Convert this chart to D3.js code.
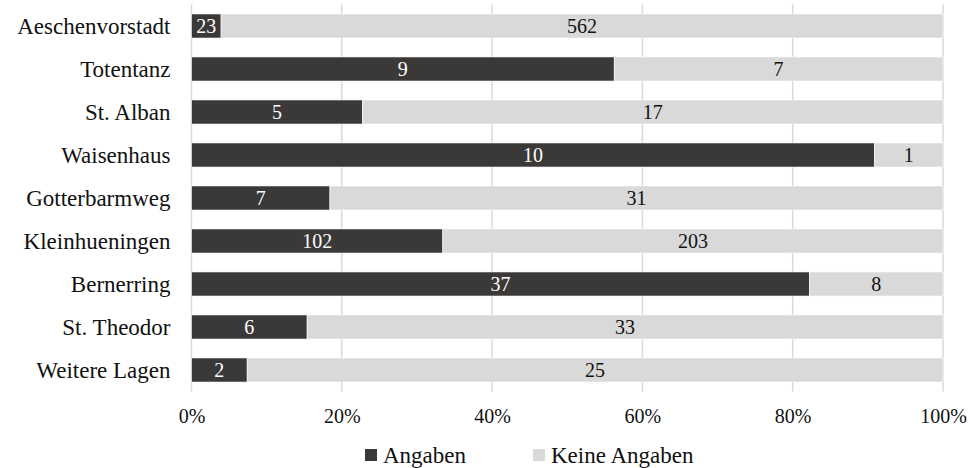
<!DOCTYPE html>
<html>
<head>
<meta charset="utf-8">
<script src="https://cdn.jsdelivr.net/npm/d3@7"></script>
</head>
<body style="margin:0">
<svg id="chart" width="970" height="468" font-family="Liberation Serif"></svg>
<script>
// Locations and counts (with / without information)
const categories = ["Aeschenvorstadt", "Totentanz", "St. Alban", "Waisenhaus", "Gotterbarmweg",
                    "Kleinhueningen", "Bernerring", "St. Theodor", "Weitere Lagen"];
const angaben      = [23, 9, 5, 10, 7, 102, 37, 6, 2];
const keineAngaben = [562, 7, 17, 1, 31, 203, 8, 33, 25];
const seriesNames  = ["Angaben", "Keine Angaben"];
const tickValues   = [0, 0.2, 0.4, 0.6, 0.8, 1.0];

const colors = ["#3b3838", "#d9d9d9"];
const textColors = ["#ffffff", "#111111"];
const serif = "'Liberation Serif'";

const svg = d3.select("#chart");
const margin = { left: 191.5, right: 27, top: 4.5, bottom: 76.5 };
const W = 970, H = 468;

const x = d3.scaleLinear().domain([0, 1]).range([margin.left, W - margin.right]);
const y = d3.scaleBand().domain(categories).range([margin.top, H - margin.bottom]).paddingInner(0.44).paddingOuter(0.22);

const rows = categories.map((c, i) => ({ cat: c, Angaben: angaben[i], "Keine Angaben": keineAngaben[i] }));
const stack = d3.stack().keys(seriesNames).offset(d3.stackOffsetExpand);
const layers = stack(rows);

// Gridlines
svg.append("g")
  .selectAll("line")
  .data(tickValues)
  .join("line")
  .attr("x1", d => x(d)).attr("x2", d => x(d))
  .attr("y1", margin.top).attr("y2", H - margin.bottom)
  .attr("stroke", "#d9d9d9").attr("stroke-width", 1.5);

// Bars
const layerG = svg.append("g")
  .selectAll("g")
  .data(layers)
  .join("g")
  .attr("fill", (d, i) => colors[i]);

layerG.selectAll("rect")
  .data(d => d)
  .join("rect")
  .attr("x", d => x(d[0]))
  .attr("width", d => x(d[1]) - x(d[0]))
  .attr("y", d => y(d.data.cat))
  .attr("height", y.bandwidth())
  .attr("stroke", "#ffffff").attr("stroke-width", 0.6);

// Value labels
const valueLabels = [];
layers.forEach((layer, li) => layer.forEach(p => valueLabels.push({ p, key: layer.key, li })));
svg.selectAll("text.value")
  .data(valueLabels)
  .join("text")
  .attr("class", "value")
  .attr("x", d => (x(d.p[0]) + x(d.p[1])) / 2)
  .attr("y", d => y(d.p.data.cat) + y.bandwidth() / 2)
  .attr("dy", "0.35em")
  .attr("text-anchor", "middle")
  .attr("fill", d => textColors[d.li])
  .attr("font-size", 20)
  .style("font-family", serif)
  .text(d => d.p.data[d.key]);

// Category labels
svg.selectAll("text.cat")
  .data(categories)
  .join("text")
  .attr("class", "cat")
  .attr("x", margin.left - 21)
  .attr("y", d => y(d) + y.bandwidth() / 2)
  .attr("dy", "0.35em")
  .attr("text-anchor", "end")
  .attr("fill", "#111")
  .attr("font-size", 23)
  .style("font-family", serif)
  .text(d => d);

// Percentage axis labels, placed with the same scale the gridlines use
const axis = d3.axisBottom(x).tickValues(tickValues).tickFormat(d3.format(".0%")).tickSize(0).tickPadding(0);
const axisG = svg.append("g")
  .attr("transform", `translate(0, ${H - margin.bottom})`)
  .call(axis)
  .attr("font-family", "Liberation Serif")
  .attr("font-size", 20);
axisG.select(".domain").remove();
axisG.selectAll("text")
  .attr("y", 24)
  .attr("dy", "0.35em")
  .attr("fill", "#111")
  .style("font-family", serif);

// Legend
const legendItems = [
  { name: seriesNames[0], color: colors[0], x: 365 },
  { name: seriesNames[1], color: colors[1], x: 533 }
];
svg.selectAll("rect.legend")
  .data(legendItems)
  .join("rect")
  .attr("class", "legend")
  .attr("x", d => d.x).attr("y", 449).attr("width", 12).attr("height", 12)
  .attr("fill", d => d.color);
svg.selectAll("text.legend")
  .data(legendItems)
  .join("text")
  .attr("class", "legend")
  .attr("x", d => d.x + 18).attr("y", 455).attr("dy", "0.35em")
  .attr("fill", "#111").attr("font-size", 23)
  .style("font-family", serif)
  .text(d => d.name);
</script>
</body>
</html>
